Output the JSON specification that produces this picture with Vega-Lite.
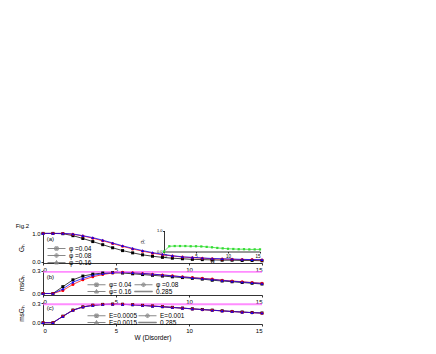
{
  "$schema": "https://vega.github.io/schema/vega-lite/v6.json",
  "autosize": "pad",
  "padding": {"left": 15, "top": 222, "right": 5, "bottom": 5},
  "bounds": "flush",
  "spacing": 7,
  "title": {"text": "Fig.2", "anchor": "start", "fontSize": 6, "fontWeight": "normal", "font": "Liberation Sans", "color": "#000", "dx": -3, "offset": 0},
  "config": {
    "view": {"stroke": null},
    "font": "Liberation Sans",
    "axis": {"labelFontSize": 6, "titleFontSize": 6.5, "tickSize": 2, "labelPadding": 1, "domainColor": "#000", "tickColor": "#000", "labelColor": "#000", "titleColor": "#000", "grid": false, "titleFontWeight": "normal", "domainWidth": 0.8, "tickWidth": 0.8},
    "legend": {"labelFontSize": 6.5, "labelColor": "#000", "symbolSize": 324, "rowPadding": 0, "padding": 0, "labelOffset": 3, "symbolOffset": 0, "clipHeight": 6, "symbolOpacity": 1, "symbolStrokeWidth": 1, "title": null, "orient": "none"}
  },
  "datasets": {
    "a": [
      {"w":0,"s":"φ =0.04","v":1},{"w":0.68,"s":"φ =0.04","v":1},{"w":1.36,"s":"φ =0.04","v":0.99},{"w":2.05,"s":"φ =0.04","v":0.92},{"w":2.73,"s":"φ =0.04","v":0.82},{"w":3.41,"s":"φ =0.04","v":0.71},{"w":4.09,"s":"φ =0.04","v":0.6},{"w":4.77,"s":"φ =0.04","v":0.49},{"w":5.45,"s":"φ =0.04","v":0.39},{"w":6.14,"s":"φ =0.04","v":0.31},{"w":6.82,"s":"φ =0.04","v":0.24},{"w":7.5,"s":"φ =0.04","v":0.19},{"w":8.18,"s":"φ =0.04","v":0.15},{"w":8.86,"s":"φ =0.04","v":0.12},{"w":9.55,"s":"φ =0.04","v":0.1},{"w":10.23,"s":"φ =0.04","v":0.08},{"w":10.91,"s":"φ =0.04","v":0.07},{"w":11.59,"s":"φ =0.04","v":0.06},{"w":12.27,"s":"φ =0.04","v":0.05},{"w":12.95,"s":"φ =0.04","v":0.05},{"w":13.64,"s":"φ =0.04","v":0.04},{"w":14.32,"s":"φ =0.04","v":0.04},{"w":15,"s":"φ =0.04","v":0.03},
      {"w":0,"s":"φ =0.08","v":1},{"w":0.68,"s":"φ =0.08","v":1},{"w":1.36,"s":"φ =0.08","v":1},{"w":2.05,"s":"φ =0.08","v":0.97},{"w":2.73,"s":"φ =0.08","v":0.91},{"w":3.41,"s":"φ =0.08","v":0.83},{"w":4.09,"s":"φ =0.08","v":0.74},{"w":4.77,"s":"φ =0.08","v":0.64},{"w":5.45,"s":"φ =0.08","v":0.54},{"w":6.14,"s":"φ =0.08","v":0.45},{"w":6.82,"s":"φ =0.08","v":0.37},{"w":7.5,"s":"φ =0.08","v":0.3},{"w":8.18,"s":"φ =0.08","v":0.24},{"w":8.86,"s":"φ =0.08","v":0.2},{"w":9.55,"s":"φ =0.08","v":0.16},{"w":10.23,"s":"φ =0.08","v":0.14},{"w":10.91,"s":"φ =0.08","v":0.12},{"w":11.59,"s":"φ =0.08","v":0.1},{"w":12.27,"s":"φ =0.08","v":0.09},{"w":12.95,"s":"φ =0.08","v":0.08},{"w":13.64,"s":"φ =0.08","v":0.07},{"w":14.32,"s":"φ =0.08","v":0.07},{"w":15,"s":"φ =0.08","v":0.06},
      {"w":0,"s":"φ =0.16","v":1},{"w":0.68,"s":"φ =0.16","v":1},{"w":1.36,"s":"φ =0.16","v":1},{"w":2.05,"s":"φ =0.16","v":0.98},{"w":2.73,"s":"φ =0.16","v":0.92},{"w":3.41,"s":"φ =0.16","v":0.85},{"w":4.09,"s":"φ =0.16","v":0.76},{"w":4.77,"s":"φ =0.16","v":0.66},{"w":5.45,"s":"φ =0.16","v":0.56},{"w":6.14,"s":"φ =0.16","v":0.47},{"w":6.82,"s":"φ =0.16","v":0.39},{"w":7.5,"s":"φ =0.16","v":0.32},{"w":8.18,"s":"φ =0.16","v":0.26},{"w":8.86,"s":"φ =0.16","v":0.21},{"w":9.55,"s":"φ =0.16","v":0.17},{"w":10.23,"s":"φ =0.16","v":0.15},{"w":10.91,"s":"φ =0.16","v":0.13},{"w":11.59,"s":"φ =0.16","v":0.11},{"w":12.27,"s":"φ =0.16","v":0.1},{"w":12.95,"s":"φ =0.16","v":0.09},{"w":13.64,"s":"φ =0.16","v":0.08},{"w":14.32,"s":"φ =0.16","v":0.07},{"w":15,"s":"φ =0.16","v":0.07}
    ],
    "b": [
      {"w":0,"s":"φ= 0.04","v":0},{"w":0.68,"s":"φ= 0.04","v":0},{"w":1.36,"s":"φ= 0.04","v":0.09},{"w":2.05,"s":"φ= 0.04","v":0.18},{"w":2.73,"s":"φ= 0.04","v":0.23},{"w":3.41,"s":"φ= 0.04","v":0.255},{"w":4.09,"s":"φ= 0.04","v":0.27},{"w":4.77,"s":"φ= 0.04","v":0.275},{"w":5.45,"s":"φ= 0.04","v":0.27},{"w":6.14,"s":"φ= 0.04","v":0.26},{"w":6.82,"s":"φ= 0.04","v":0.25},{"w":7.5,"s":"φ= 0.04","v":0.24},{"w":8.18,"s":"φ= 0.04","v":0.23},{"w":8.86,"s":"φ= 0.04","v":0.22},{"w":9.55,"s":"φ= 0.04","v":0.21},{"w":10.23,"s":"φ= 0.04","v":0.2},{"w":10.91,"s":"φ= 0.04","v":0.19},{"w":11.59,"s":"φ= 0.04","v":0.175},{"w":12.27,"s":"φ= 0.04","v":0.165},{"w":12.95,"s":"φ= 0.04","v":0.155},{"w":13.64,"s":"φ= 0.04","v":0.145},{"w":14.32,"s":"φ= 0.04","v":0.135},{"w":15,"s":"φ= 0.04","v":0.125},
      {"w":0,"s":"φ =0.08","v":0},{"w":0.68,"s":"φ =0.08","v":0},{"w":1.36,"s":"φ =0.08","v":0.04},{"w":2.05,"s":"φ =0.08","v":0.12},{"w":2.73,"s":"φ =0.08","v":0.18},{"w":3.41,"s":"φ =0.08","v":0.22},{"w":4.09,"s":"φ =0.08","v":0.25},{"w":4.77,"s":"φ =0.08","v":0.27},{"w":5.45,"s":"φ =0.08","v":0.28},{"w":6.14,"s":"φ =0.08","v":0.275},{"w":6.82,"s":"φ =0.08","v":0.265},{"w":7.5,"s":"φ =0.08","v":0.255},{"w":8.18,"s":"φ =0.08","v":0.245},{"w":8.86,"s":"φ =0.08","v":0.235},{"w":9.55,"s":"φ =0.08","v":0.22},{"w":10.23,"s":"φ =0.08","v":0.21},{"w":10.91,"s":"φ =0.08","v":0.2},{"w":11.59,"s":"φ =0.08","v":0.19},{"w":12.27,"s":"φ =0.08","v":0.175},{"w":12.95,"s":"φ =0.08","v":0.165},{"w":13.64,"s":"φ =0.08","v":0.155},{"w":14.32,"s":"φ =0.08","v":0.145},{"w":15,"s":"φ =0.08","v":0.135},
      {"w":0,"s":"φ= 0.16","v":0},{"w":0.68,"s":"φ= 0.16","v":0},{"w":1.36,"s":"φ= 0.16","v":0.06},{"w":2.05,"s":"φ= 0.16","v":0.15},{"w":2.73,"s":"φ= 0.16","v":0.2},{"w":3.41,"s":"φ= 0.16","v":0.24},{"w":4.09,"s":"φ= 0.16","v":0.26},{"w":4.77,"s":"φ= 0.16","v":0.275},{"w":5.45,"s":"φ= 0.16","v":0.28},{"w":6.14,"s":"φ= 0.16","v":0.275},{"w":6.82,"s":"φ= 0.16","v":0.265},{"w":7.5,"s":"φ= 0.16","v":0.255},{"w":8.18,"s":"φ= 0.16","v":0.245},{"w":8.86,"s":"φ= 0.16","v":0.232},{"w":9.55,"s":"φ= 0.16","v":0.22},{"w":10.23,"s":"φ= 0.16","v":0.208},{"w":10.91,"s":"φ= 0.16","v":0.197},{"w":11.59,"s":"φ= 0.16","v":0.186},{"w":12.27,"s":"φ= 0.16","v":0.173},{"w":12.95,"s":"φ= 0.16","v":0.162},{"w":13.64,"s":"φ= 0.16","v":0.152},{"w":14.32,"s":"φ= 0.16","v":0.142},{"w":15,"s":"φ= 0.16","v":0.132},
      {"w":0,"s":"0.285","v":0.285},{"w":15,"s":"0.285","v":0.285}
    ],
    "c": [
      {"w":0,"s":"E=0.0005","v":0},{"w":0.68,"s":"E=0.0005","v":0},{"w":1.36,"s":"E=0.0005","v":0.1},{"w":2.05,"s":"E=0.0005","v":0.195},{"w":2.73,"s":"E=0.0005","v":0.245},{"w":3.41,"s":"E=0.0005","v":0.27},{"w":4.09,"s":"E=0.0005","v":0.283},{"w":4.77,"s":"E=0.0005","v":0.288},{"w":5.45,"s":"E=0.0005","v":0.285},{"w":6.14,"s":"E=0.0005","v":0.278},{"w":6.82,"s":"E=0.0005","v":0.268},{"w":7.5,"s":"E=0.0005","v":0.258},{"w":8.18,"s":"E=0.0005","v":0.248},{"w":8.86,"s":"E=0.0005","v":0.237},{"w":9.55,"s":"E=0.0005","v":0.226},{"w":10.23,"s":"E=0.0005","v":0.215},{"w":10.91,"s":"E=0.0005","v":0.204},{"w":11.59,"s":"E=0.0005","v":0.194},{"w":12.27,"s":"E=0.0005","v":0.184},{"w":12.95,"s":"E=0.0005","v":0.174},{"w":13.64,"s":"E=0.0005","v":0.165},{"w":14.32,"s":"E=0.0005","v":0.157},{"w":15,"s":"E=0.0005","v":0.15},
      {"w":0,"s":"E=0.001","v":0},{"w":0.68,"s":"E=0.001","v":0},{"w":1.36,"s":"E=0.001","v":0.1},{"w":2.05,"s":"E=0.001","v":0.193},{"w":2.73,"s":"E=0.001","v":0.243},{"w":3.41,"s":"E=0.001","v":0.269},{"w":4.09,"s":"E=0.001","v":0.282},{"w":4.77,"s":"E=0.001","v":0.287},{"w":5.45,"s":"E=0.001","v":0.284},{"w":6.14,"s":"E=0.001","v":0.277},{"w":6.82,"s":"E=0.001","v":0.267},{"w":7.5,"s":"E=0.001","v":0.257},{"w":8.18,"s":"E=0.001","v":0.246},{"w":8.86,"s":"E=0.001","v":0.235},{"w":9.55,"s":"E=0.001","v":0.224},{"w":10.23,"s":"E=0.001","v":0.213},{"w":10.91,"s":"E=0.001","v":0.202},{"w":11.59,"s":"E=0.001","v":0.192},{"w":12.27,"s":"E=0.001","v":0.182},{"w":12.95,"s":"E=0.001","v":0.172},{"w":13.64,"s":"E=0.001","v":0.163},{"w":14.32,"s":"E=0.001","v":0.155},{"w":15,"s":"E=0.001","v":0.148},
      {"w":0,"s":"E=0.0015","v":0},{"w":0.68,"s":"E=0.0015","v":0},{"w":1.36,"s":"E=0.0015","v":0.098},{"w":2.05,"s":"E=0.0015","v":0.192},{"w":2.73,"s":"E=0.0015","v":0.242},{"w":3.41,"s":"E=0.0015","v":0.268},{"w":4.09,"s":"E=0.0015","v":0.281},{"w":4.77,"s":"E=0.0015","v":0.286},{"w":5.45,"s":"E=0.0015","v":0.284},{"w":6.14,"s":"E=0.0015","v":0.277},{"w":6.82,"s":"E=0.0015","v":0.267},{"w":7.5,"s":"E=0.0015","v":0.256},{"w":8.18,"s":"E=0.0015","v":0.246},{"w":8.86,"s":"E=0.0015","v":0.236},{"w":9.55,"s":"E=0.0015","v":0.225},{"w":10.23,"s":"E=0.0015","v":0.214},{"w":10.91,"s":"E=0.0015","v":0.203},{"w":11.59,"s":"E=0.0015","v":0.193},{"w":12.27,"s":"E=0.0015","v":0.183},{"w":12.95,"s":"E=0.0015","v":0.173},{"w":13.64,"s":"E=0.0015","v":0.164},{"w":14.32,"s":"E=0.0015","v":0.156},{"w":15,"s":"E=0.0015","v":0.149},
      {"w":0,"s":"0.285","v":0.285},{"w":15,"s":"0.285","v":0.285}
    ],
    "inset": [
      {"w":0,"v":0},{"w":0.83,"v":0.25},{"w":1.67,"v":0.26},{"w":2.5,"v":0.26},{"w":3.33,"v":0.26},{"w":4.17,"v":0.25},{"w":5,"v":0.25},{"w":5.83,"v":0.24},{"w":6.67,"v":0.22},{"w":7.5,"v":0.2},{"w":8.33,"v":0.17},{"w":9.17,"v":0.15},{"w":10,"v":0.13},{"w":10.83,"v":0.12},{"w":11.67,"v":0.11},{"w":12.5,"v":0.11},{"w":13.33,"v":0.1},{"w":14.17,"v":0.1},{"w":15,"v":0.1}
    ]
  },
  "resolve": {"scale": {"x": "independent", "y": "independent", "color": "independent", "shape": "independent", "stroke": "independent"}},
  "vconcat": [
    {
      "width": 219, "height": 31,
      "resolve": {"scale": {"x": "independent", "y": "independent"}},
      "layer": [
        {
          "data": {"name": "a"},
          "resolve": {"scale": {"shape": "independent"}},
          "layer": [
            {
              "mark": {"type": "line", "opacity": 0.75, "strokeWidth": 1},
              "encoding": {
                "x": {"field": "w", "type": "quantitative", "scale": {"domain": [0, 15], "nice": false, "zero": false}, "axis": {"values": [0, 5, 10, 15], "title": null}},
                "y": {"field": "v", "type": "quantitative", "scale": {"domain": [-0.05, 1.05], "nice": false, "zero": false}, "axis": {"values": [0, 0.5, 1], "format": ".1f", "title": "Gₕ", "titlePadding": 7}},
                "color": {"field": "s", "type": "nominal", "scale": {"domain": ["φ =0.04", "φ =0.08", "φ =0.16"], "range": ["#000000", "#ff0000", "#0000ff"]}, "legend": null}
              }
            },
            {
              "mark": {"type": "point", "filled": true, "size": 9, "opacity": 1, "strokeWidth": 0},
              "encoding": {
                "x": {"field": "w", "type": "quantitative"},
                "y": {"field": "v", "type": "quantitative"},
                "shape": {"field": "s", "type": "nominal", "scale": {"domain": ["φ =0.04", "φ =0.08", "φ =0.16"], "range": ["square", "circle", "triangle-up"]}, "legend": null},
                "color": {"field": "s", "type": "nominal", "legend": null}
              }
            },
            {
              "transform": [{"filter": "false"}],
              "mark": {"type": "point", "filled": false},
              "encoding": {
                "x": {"field": "w", "type": "quantitative"},
                "y": {"field": "v", "type": "quantitative"},
                "shape": {"field": "s", "type": "nominal", "scale": {"domain": ["φ =0.04", "φ =0.08", "φ =0.16"], "range": ["M-1,0H1M-0.18,-0.18H0.18V0.18H-0.18ZM-0.08,-0.08H0.08V0.08H-0.08Z", "M-1,0H1M0.2,0A0.2,0.2,0,1,1,-0.2,0A0.2,0.2,0,1,1,0.2,0ZM0.09,0A0.09,0.09,0,1,1,-0.09,0A0.09,0.09,0,1,1,0.09,0Z", "M-1,0H1M0,-0.22L0.21,0.16H-0.21ZM0,-0.1L0.09,0.07H-0.09Z"]},
                  "legend": {"legendX": 4, "legendY": 13.5}},
                "stroke": {"field": "s", "type": "nominal", "scale": {"domain": ["φ =0.04", "φ =0.08", "φ =0.16"], "range": ["#000000", "#ff0000", "#0000ff"]}, "legend": {"legendX": 4, "legendY": 13.5}}
              }
            },
            {
              "data": {"values": [{}]},
              "mark": {"type": "text", "align": "left", "baseline": "middle", "fontSize": 6, "font": "Liberation Sans"},
              "encoding": {"x": {"datum": 0.25}, "y": {"datum": 0.79}, "text": {"value": "(a)"}}
            }
          ]
        },
        {
          "data": {"name": "inset"},
          "layer": [
            {
              "mark": {"type": "line", "color": "#33dd33", "strokeWidth": 0.8},
              "encoding": {
                "x": {"field": "w", "type": "quantitative", "scale": {"domain": [0, 15], "range": [121, 217], "nice": false, "zero": false}, "axis": {"orient": "bottom", "offset": -11.5, "values": [0, 5, 10, 15], "title": "W", "labelFontSize": 4.5, "titleFontSize": 5, "titlePadding": 0, "tickSize": 1.5, "labelPadding": 0.5}},
                "y": {"field": "v", "type": "quantitative", "scale": {"domain": [0, 1], "range": [19.5, -1.5], "nice": false, "zero": false}, "axis": {"orient": "left", "offset": -121, "values": [0, 0.2, 0.4, 0.6, 0.8, 1], "format": ".1f", "title": "Pᵣ", "labelFontSize": 4, "titleFontSize": 5, "titlePadding": 11, "tickSize": 1.5, "labelPadding": 0.5}}
              }
            },
            {
              "mark": {"type": "square", "color": "#33dd33", "size": 5, "opacity": 1},
              "encoding": {
                "x": {"field": "w", "type": "quantitative"},
                "y": {"field": "v", "type": "quantitative"}
              }
            }
          ]
        }
      ]
    },
    {
      "width": 219, "height": 25,
      "data": {"name": "b"},
      "resolve": {"scale": {"shape": "independent"}},
      "layer": [
        {
          "mark": {"type": "line", "opacity": 0.75},
          "encoding": {
            "x": {"field": "w", "type": "quantitative", "scale": {"domain": [0, 15], "nice": false, "zero": false}, "axis": {"values": [0, 5, 10, 15], "title": null}},
            "y": {"field": "v", "type": "quantitative", "scale": {"domain": [-0.02, 0.31], "nice": false, "zero": false}, "axis": {"values": [0, 0.1, 0.2, 0.3], "format": ".1f", "title": "msGₕ", "titlePadding": 7}},
            "strokeWidth": {"condition": {"test": "datum.s === '0.285'", "value": 1.8}, "value": 1},
            "color": {"field": "s", "type": "nominal", "scale": {"domain": ["φ= 0.04", "φ =0.08", "φ= 0.16", "0.285"], "range": ["#000000", "#ff0000", "#0000ff", "#ff66ff"]}, "legend": null}
          }
        },
        {
          "transform": [{"filter": "datum.s !== '0.285'"}],
          "mark": {"type": "point", "filled": true, "size": 9, "opacity": 1, "strokeWidth": 0},
          "encoding": {
            "x": {"field": "w", "type": "quantitative"},
            "y": {"field": "v", "type": "quantitative"},
            "shape": {"field": "s", "type": "nominal", "scale": {"domain": ["φ= 0.04", "φ =0.08", "φ= 0.16", "0.285"], "range": ["square", "circle", "triangle-up", "square"]}, "legend": null},
            "color": {"field": "s", "type": "nominal", "legend": null}
          }
        },
        {
          "transform": [{"filter": "false"}],
          "mark": {"type": "point", "filled": false},
          "encoding": {
            "x": {"field": "w", "type": "quantitative"},
            "y": {"field": "v", "type": "quantitative"},
            "shape": {"field": "s", "type": "nominal", "scale": {"domain": ["φ= 0.04", "φ =0.08", "φ= 0.16", "0.285"], "range": ["M-1,0H1M-0.18,-0.18H0.18V0.18H-0.18ZM-0.08,-0.08H0.08V0.08H-0.08Z", "M-1,0H1M0.2,0A0.2,0.2,0,1,1,-0.2,0A0.2,0.2,0,1,1,0.2,0ZM0.09,0A0.09,0.09,0,1,1,-0.09,0A0.09,0.09,0,1,1,0.09,0Z", "M-1,0H1M0,-0.22L0.21,0.16H-0.21ZM0,-0.1L0.09,0.07H-0.09Z", "M-1,0H1M-1,0.03H1M-1,-0.03H1"]},
              "legend": {"legendX": 44, "legendY": 11.5, "columns": 2, "direction": "horizontal", "columnPadding": 2}},
            "stroke": {"field": "s", "type": "nominal", "scale": {"domain": ["φ= 0.04", "φ =0.08", "φ= 0.16", "0.285"], "range": ["#000000", "#ff0000", "#0000ff", "#ff66ff"]}, "legend": {"legendX": 44, "legendY": 11.5, "columns": 2, "direction": "horizontal", "columnPadding": 2}}
          }
        },
        {
          "data": {"values": [{}]},
          "mark": {"type": "text", "align": "left", "baseline": "middle", "fontSize": 6, "font": "Liberation Sans"},
          "encoding": {"x": {"datum": 0.25}, "y": {"datum": 0.22}, "text": {"value": "(b)"}}
        }
      ]
    },
    {
      "width": 219, "height": 22,
      "data": {"name": "c"},
      "resolve": {"scale": {"shape": "independent"}},
      "layer": [
        {
          "mark": {"type": "line", "opacity": 0.75},
          "encoding": {
            "x": {"field": "w", "type": "quantitative", "scale": {"domain": [0, 15], "nice": false, "zero": false}, "axis": {"values": [0, 5, 10, 15], "title": "W (Disorder)", "titlePadding": 1}},
            "y": {"field": "v", "type": "quantitative", "scale": {"domain": [-0.02, 0.32], "nice": false, "zero": false}, "axis": {"values": [0, 0.1, 0.2, 0.3], "format": ".1f", "title": "msGₕ", "titlePadding": 7}},
            "strokeWidth": {"condition": {"test": "datum.s === '0.285'", "value": 1.8}, "value": 1},
            "color": {"field": "s", "type": "nominal", "scale": {"domain": ["E=0.0005", "E=0.001", "E=0.0015", "0.285"], "range": ["#000000", "#ff0000", "#0000ff", "#ff66ff"]}, "legend": null}
          }
        },
        {
          "transform": [{"filter": "datum.s !== '0.285'"}],
          "mark": {"type": "point", "filled": true, "size": 9, "opacity": 1, "strokeWidth": 0},
          "encoding": {
            "x": {"field": "w", "type": "quantitative"},
            "y": {"field": "v", "type": "quantitative"},
            "shape": {"field": "s", "type": "nominal", "scale": {"domain": ["E=0.0005", "E=0.001", "E=0.0015", "0.285"], "range": ["square", "circle", "triangle-up", "square"]}, "legend": null},
            "color": {"field": "s", "type": "nominal", "legend": null}
          }
        },
        {
          "transform": [{"filter": "false"}],
          "mark": {"type": "point", "filled": false},
          "encoding": {
            "x": {"field": "w", "type": "quantitative"},
            "y": {"field": "v", "type": "quantitative"},
            "shape": {"field": "s", "type": "nominal", "scale": {"domain": ["E=0.0005", "E=0.001", "E=0.0015", "0.285"], "range": ["M-1,0H1M-0.18,-0.18H0.18V0.18H-0.18ZM-0.08,-0.08H0.08V0.08H-0.08Z", "M-1,0H1M0.2,0A0.2,0.2,0,1,1,-0.2,0A0.2,0.2,0,1,1,0.2,0ZM0.09,0A0.09,0.09,0,1,1,-0.09,0A0.09,0.09,0,1,1,0.09,0Z", "M-1,0H1M0,-0.22L0.21,0.16H-0.21ZM0,-0.1L0.09,0.07H-0.09Z", "M-1,0H1M-1,0.03H1M-1,-0.03H1"]},
              "legend": {"legendX": 44, "legendY": 10.5, "columns": 2, "direction": "horizontal", "columnPadding": 0}},
            "stroke": {"field": "s", "type": "nominal", "scale": {"domain": ["E=0.0005", "E=0.001", "E=0.0015", "0.285"], "range": ["#000000", "#ff0000", "#0000ff", "#ff66ff"]}, "legend": {"legendX": 44, "legendY": 10.5, "columns": 2, "direction": "horizontal", "columnPadding": 0}}
          }
        },
        {
          "data": {"values": [{}]},
          "mark": {"type": "text", "align": "left", "baseline": "middle", "fontSize": 6, "font": "Liberation Sans"},
          "encoding": {"x": {"datum": 0.25}, "y": {"datum": 0.22}, "text": {"value": "(c)"}}
        }
      ]
    }
  ]
}
